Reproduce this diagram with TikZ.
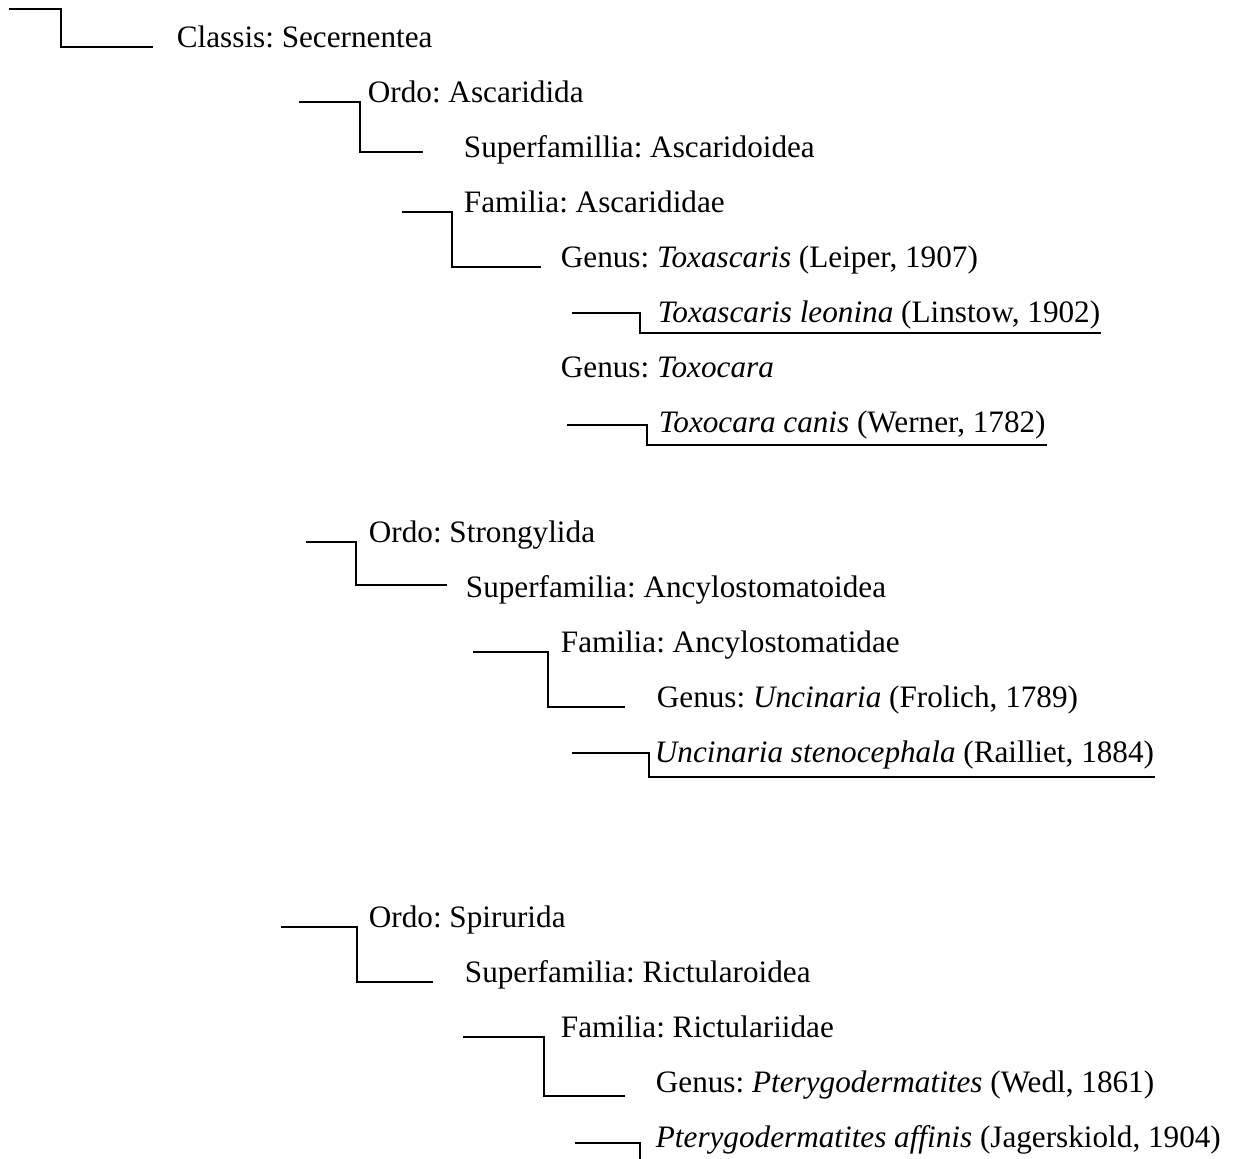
\documentclass[tikz,border=0pt]{standalone}
\usepackage{fontspec}
\setmainfont{Liberation Serif}
\usetikzlibrary{calc}
\frenchspacing
\tikzset{
taxon/.style  = {anchor=base west, inner sep=0pt,
                 font=\fontsize{15.6}{18}\selectfont},
branch/.style = {line width=0.9pt}
}

\begin{document}
\begin{tikzpicture}[x=0.5pt, y=-0.5pt, branch]
\useasboundingbox (0,0) rectangle (1246,1158);

% name / x / row / text
\foreach \n/\x/\r/\t in {
    classis/176/0/{Classis: Secernentea},
    ordoA/367/1/{Ordo: Ascaridida},
    superA/463/2/{Superfamillia: Ascaridoidea},
    famA/463/3/{Familia: Ascarididae},
    genusTx/560/4/{Genus: \textit{Toxascaris} (Leiper, 1907)},
    leonina/657/5/{\textit{Toxascaris leonina} (Linstow, 1902)},
    genusTc/560/6/{Genus: \textit{Toxocara}},
    canis/658/7/{\textit{Toxocara canis} (Werner, 1782)},
    ordoS/368/9/{Ordo: Strongylida},
    superS/465/10/{Superfamilia: Ancylostomatoidea},
    famS/560/11/{Familia: Ancylostomatidae},
    genusU/656/12/{Genus: \textit{Uncinaria} (Frolich, 1789)},
    uncinaria/654/13/{\textit{Uncinaria stenocephala} (Railliet, 1884)},
    ordoSp/368/16/{Ordo: Spirurida},
    superSp/464/17/{Superfamilia: Rictularoidea},
    famSp/560/18/{Familia: Rictulariidae},
    genusP/655/19/{Genus: \textit{Pterygodermatites} (Wedl, 1861)},
    affinis/655/20/{\textit{Pterygodermatites affinis} (Jagerskiold, 1904)}
} {
    \node[taxon] (\n) at (\x, 47+55*\r) {\t};
}

\coordinate (phylum) at (9,9);
\draw (phylum) -| ($(classis.base west)+(-115,0)$) -- ($(classis.base west)+(-23,0)$);

% parent / child / gap / arm / end gap / drop
\foreach \a/\b/\v/\l/\g/\d in {ordoA/superA/7/61/40/-5, famA/genusTx/11/50/19/0,
    ordoS/superS/12/50/18/-12, famS/genusU/12/75/31/0,
    ordoSp/superSp/11/76/31/0, famSp/genusP/16/81/30/4} {
    \draw ($(\a.base west)+(-\v-\l,0)$) -- ($(\a.base west)+(-\v,0)$)
          |- ($(\b.base west)+(-\g,\d)$);
}

% species underlines
\foreach \s/\v/\l/\u/\d in {leonina/17/68/-9/11, canis/11/80/-7/13,
    uncinaria/5/77/-9/15, affinis/15/65/-4/16} {
    \draw ($(\s.base west)+(-\v-\l,\u)$) -- ($(\s.base west)+(-\v,\u)$)
          |- ($(\s.base east)+(0,\d)$);
}
\end{tikzpicture}
\end{document}
